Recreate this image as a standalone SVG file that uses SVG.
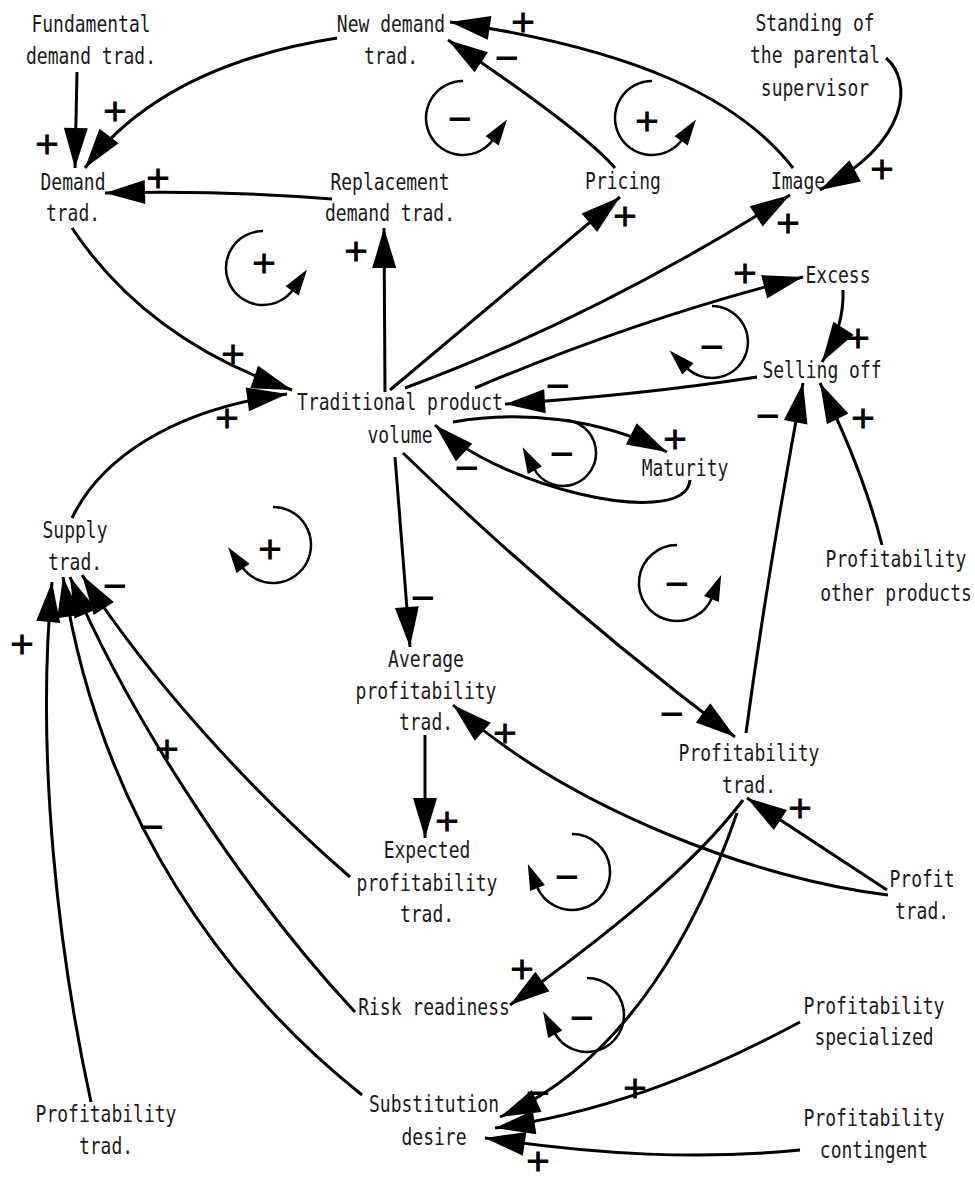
<svg xmlns="http://www.w3.org/2000/svg" width="975" height="1182" viewBox="0 0 975 1182">
<style>
.t{font-family:"DejaVu Sans Mono","Liberation Mono",monospace;font-size:18px;fill:#1a1a1a;text-anchor:middle}
.s{font-family:"DejaVu Sans","Liberation Sans",sans-serif;font-size:31px;font-weight:normal;fill:#000;stroke:#000;stroke-width:1;text-anchor:middle;dominant-baseline:central}
.c{fill:none;stroke:#000;stroke-width:3;marker-end:url(#ah)}
.l{fill:none;stroke:#000;stroke-width:2.5;marker-end:url(#lh)}
</style>
<defs>
<marker id="ah" markerUnits="userSpaceOnUse" markerWidth="44" markerHeight="28" refX="40" refY="12" orient="auto" overflow="visible"><path d="M0,0 L40,12 L0,24 z" fill="#000"/></marker>
<marker id="lh" markerUnits="userSpaceOnUse" markerWidth="30" markerHeight="20" refX="2" refY="8" orient="auto" overflow="visible"><path d="M0,0 L26,8 L0,16 z" fill="#000"/></marker>
</defs>
<rect width="975" height="1182" fill="#fff"/>

<g id="connectors">
<path class="c" d="M77,72 L75,168"/>
<path class="c" d="M337,38 C230,55 140,95 85,168"/>
<path class="c" d="M332,199 Q220,190 105,193"/>
<path class="c" d="M385,392 L384,228"/>
<path class="c" d="M390,390 L620,197"/>
<path class="c" d="M405,388 Q597,317 790,195"/>
<path class="c" d="M475,388 Q640,318 803,277"/>
<path class="c" d="M886,58 C912,80 912,140 820,190"/>
<path class="c" d="M793,168 C740,100 640,50 450,22"/>
<path class="c" d="M615,168 C595,145 545,105 448,40"/>
<path class="c" d="M72,228 C120,300 190,355 292,390"/>
<path class="c" d="M72,518 C100,460 170,410 287,394"/>
<path class="c" d="M757,377 Q640,395 505,404"/>
<path class="c" d="M453,422 C520,410 600,418 667,452"/>
<path class="c" d="M690,480 C688,508 630,506 580,494 C530,482 470,458 435,425"/>
<path class="c" d="M395,457 L410,647"/>
<path class="c" d="M403,453 Q560,605 735,737"/>
<path class="c" d="M746,733 Q768,570 803,383"/>
<path class="c" d="M882,545 C868,490 848,440 820,383"/>
<path class="c" d="M843,290 C844,315 836,340 822,362"/>
<path class="c" d="M887,890 L747,798"/>
<path class="c" d="M888,895 C760,880 570,810 453,705"/>
<path class="c" d="M743,800 C690,870 600,940 510,1005"/>
<path class="c" d="M737,813 C700,920 630,1060 500,1117"/>
<path class="c" d="M800,1022 C720,1065 620,1110 495,1128"/>
<path class="c" d="M800,1150 C700,1160 600,1155 485,1138"/>
<path class="c" d="M350,877 C250,790 150,680 82,575"/>
<path class="c" d="M355,1012 C250,900 130,720 70,577"/>
<path class="c" d="M362,1095 C230,990 100,820 63,577"/>
<path class="c" d="M91,1102 C60,960 35,760 52,582"/>
<path class="c" d="M425,735 L425,838"/>
</g>

<g id="loops">
<path class="l" d="M463,81 A37,37 0 1 0 493.3,139.2"/>
<path class="l" d="M652,81 A37,37 0 1 0 682.3,139.2"/>
<path class="l" d="M263,231 A37,37 0 1 0 293.3,289.2"/>
<path class="l" d="M712,306 A36,36 0 1 1 686.5,367.5"/>
<path class="l" d="M563,420 A33,33 0 1 1 533.9,468.5"/>
<path class="l" d="M273,507 A38,38 0 1 1 241.9,566.8"/>
<path class="l" d="M677,545 A38,38 0 1 0 712.2,597.2"/>
<path class="l" d="M572,834 A38,38 0 1 1 536.8,886.2"/>
<path class="l" d="M587,978 A37,37 0 1 1 554.3,1032.4"/>
</g>

<g id="signs">
<text class="s" x="47" y="143">+</text>
<text class="s" x="115" y="110">+</text>
<text class="s" x="158" y="177">+</text>
<text class="s" x="523" y="21">+</text>
<text class="s" x="507" y="57">−</text>
<text class="s" x="356" y="250">+</text>
<text class="s" x="625" y="215">+</text>
<text class="s" x="788" y="222">+</text>
<text class="s" x="882" y="168">+</text>
<text class="s" x="745" y="272">+</text>
<text class="s" x="858" y="337">+</text>
<text class="s" x="558" y="385">−</text>
<text class="s" x="768" y="415">−</text>
<text class="s" x="863" y="417">+</text>
<text class="s" x="233" y="353">+</text>
<text class="s" x="227" y="417">+</text>
<text class="s" x="675" y="438">+</text>
<text class="s" x="467" y="467">−</text>
<text class="s" x="423" y="597">−</text>
<text class="s" x="672" y="713">−</text>
<text class="s" x="505" y="732">+</text>
<text class="s" x="800" y="807">+</text>
<text class="s" x="447" y="820">+</text>
<text class="s" x="22" y="643">+</text>
<text class="s" x="115" y="585">−</text>
<text class="s" x="167" y="748">+</text>
<text class="s" x="152" y="826">−</text>
<text class="s" x="522" y="968">+</text>
<text class="s" x="538" y="1092">−</text>
<text class="s" x="635" y="1087">+</text>
<text class="s" x="538" y="1160">+</text>
<text class="s" x="460" y="118">−</text>
<text class="s" x="647" y="120">+</text>
<text class="s" x="264" y="262">+</text>
<text class="s" x="712" y="346">−</text>
<text class="s" x="562" y="453">−</text>
<text class="s" x="270" y="548">+</text>
<text class="s" x="677" y="583">−</text>
<text class="s" x="567" y="876">−</text>
<text class="s" x="582" y="1017">−</text>
</g>

<g id="n_fund"><text class="t" transform="translate(91,32) scale(1,1.3)"><tspan x="0" y="0">Fundamental</tspan><tspan x="0" y="24.6">demand trad.</tspan></text></g>
<g id="n_newdemand"><text class="t" transform="translate(391,32) scale(1,1.3)"><tspan x="0" y="0">New demand</tspan><tspan x="0" y="24.6">trad.</tspan></text></g>
<g id="n_standing"><text class="t" transform="translate(815,31) scale(1,1.3)"><tspan x="0" y="0">Standing of</tspan><tspan x="0" y="25">the parental</tspan><tspan x="0" y="50">supervisor</tspan></text></g>
<g id="n_demand"><text class="t" transform="translate(73,190) scale(1,1.3)"><tspan x="0" y="0">Demand</tspan><tspan x="0" y="24.2">trad.</tspan></text></g>
<g id="n_replacement"><text class="t" transform="translate(390,190) scale(1,1.3)"><tspan x="0" y="0">Replacement</tspan><tspan x="0" y="24.2">demand trad.</tspan></text></g>
<g id="n_pricing"><text class="t" transform="translate(623,189) scale(1,1.3)">Pricing</text></g>
<g id="n_image"><text class="t" transform="translate(798,189) scale(1,1.3)">Image</text></g>
<g id="n_excess"><text class="t" transform="translate(838,283) scale(1,1.3)">Excess</text></g>
<g id="n_selling"><text class="t" transform="translate(822,378) scale(1,1.3)">Selling off</text></g>
<g id="n_trad"><text class="t" transform="translate(400,410) scale(1,1.3)"><tspan x="0" y="0">Traditional product</tspan><tspan x="0" y="25.4">volume</tspan></text></g>
<g id="n_maturity"><text class="t" transform="translate(685,476) scale(1,1.3)">Maturity</text></g>
<g id="n_supply"><text class="t" transform="translate(75,538) scale(1,1.3)"><tspan x="0" y="0">Supply</tspan><tspan x="0" y="24.6">trad.</tspan></text></g>
<g id="n_other"><text class="t" transform="translate(896,567) scale(1,1.3)"><tspan x="0" y="0">Profitability</tspan><tspan x="0" y="26.2">other products</tspan></text></g>
<g id="n_average"><text class="t" transform="translate(426,667) scale(1,1.3)"><tspan x="0" y="0">Average</tspan><tspan x="0" y="24.6">profitability</tspan><tspan x="0" y="48.8">trad.</tspan></text></g>
<g id="n_proftrad"><text class="t" transform="translate(749,761) scale(1,1.3)"><tspan x="0" y="0">Profitability</tspan><tspan x="0" y="24.6">trad.</tspan></text></g>
<g id="n_expected"><text class="t" transform="translate(427,858) scale(1,1.3)"><tspan x="0" y="0">Expected</tspan><tspan x="0" y="25.4">profitability</tspan><tspan x="0" y="49.6">trad.</tspan></text></g>
<g id="n_profit"><text class="t" transform="translate(922,887) scale(1,1.3)"><tspan x="0" y="0">Profit</tspan><tspan x="0" y="24.6">trad.</tspan></text></g>
<g id="n_risk"><text class="t" transform="translate(434,1015) scale(1,1.3)">Risk readiness</text></g>
<g id="n_subst"><text class="t" transform="translate(434,1112) scale(1,1.3)"><tspan x="0" y="0">Substitution</tspan><tspan x="0" y="25.4">desire</tspan></text></g>
<g id="n_proftrad2"><text class="t" transform="translate(106,1122) scale(1,1.3)"><tspan x="0" y="0">Profitability</tspan><tspan x="0" y="25">trad.</tspan></text></g>
<g id="n_spec"><text class="t" transform="translate(874,1014) scale(1,1.3)"><tspan x="0" y="0">Profitability</tspan><tspan x="0" y="23.5">specialized</tspan></text></g>
<g id="n_cont"><text class="t" transform="translate(874,1126) scale(1,1.3)"><tspan x="0" y="0">Profitability</tspan><tspan x="0" y="24.6">contingent</tspan></text></g>
</svg>
